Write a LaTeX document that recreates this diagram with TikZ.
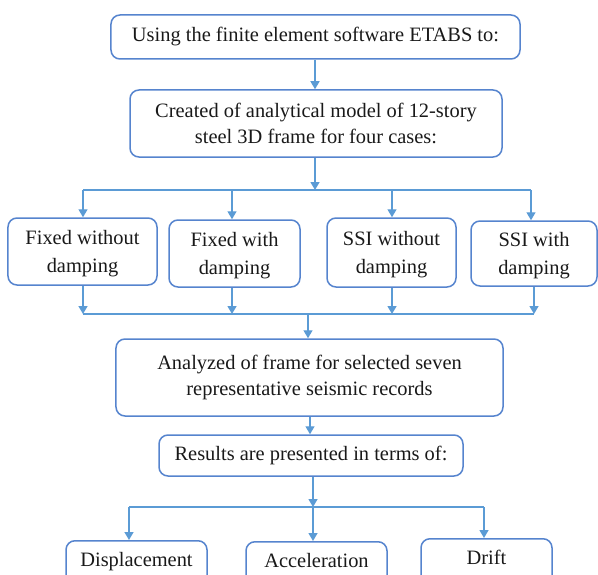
\documentclass[tikz,border=0pt]{standalone}
\usepackage{fontspec}
\setmainfont{Liberation Serif}
\usetikzlibrary{arrows.meta}
\definecolor{boxblue}{RGB}{86,132,206}
\definecolor{arrblue}{RGB}{91,155,213}
\tikzset{
  box/.style={draw=boxblue, line width=1.5bp, rounded corners=9bp, align=center,
    font=\fontsize{20.5}{26}\selectfont, inner sep=0pt, text=black!90},
  casebox/.style={box, font=\fontsize{20.5}{27.5}\selectfont, text depth=0bp},
  arr/.style={draw=arrblue, line width=1.4bp, -{Triangle[length=8bp,width=9bp]}},
  ln/.style={draw=arrblue, line width=1.4bp},
}
\begin{document}
\begin{tikzpicture}[x=1bp,y=-1bp]
\useasboundingbox (0,0) rectangle (598,575);
\clip (0,0) rectangle (598,575);
\node[box, minimum width=409bp, minimum height=44bp] (b1) at (315.5,37) {Using the finite element software ETABS to:};
\node[box, minimum width=372bp, minimum height=67bp, text depth=1bp] (b2) at (316,123.5) {Created of analytical model of 12-story\\steel 3D frame for four cases:};
\node[casebox, minimum width=149bp, minimum height=67bp] (c1) at (82.5,251.5) {Fixed without\\damping};
\node[casebox, minimum width=131bp, minimum height=67bp] (c2) at (234.5,253.5) {Fixed with\\damping};
\node[casebox, minimum width=129bp, minimum height=69bp] (c3) at (391.5,252.5) {SSI without\\damping};
\node[casebox, minimum width=126bp, minimum height=65bp] (c4) at (534,253.5) {SSI with\\damping};
\node[box, minimum width=387bp, minimum height=77bp] (b5) at (309.5,377.5) {Analyzed of frame for selected seven\\representative seismic records};
\node[box, minimum width=304bp, minimum height=41bp] (b6) at (311,455.5) {Results are presented in terms of:};
\node[box, anchor=north, minimum width=141bp, text height=14bp, text depth=40bp, inner ysep=12bp] (r1) at (136.5,540) {Displacement};
\node[box, anchor=north, minimum width=141bp, text height=14bp, text depth=40bp, inner ysep=12bp] (r2) at (316.5,541) {Acceleration};
\node[box, anchor=north, minimum width=131bp, text height=14bp, text depth=40bp, inner ysep=12bp] (r3) at (486.5,538) {Drift};
% junction coordinates
\coordinate (j1) at (315,190);
\coordinate (h1l) at (83,190);
\coordinate (h1a) at (232,190);
\coordinate (h1b) at (392,190);
\coordinate (h1r) at (531,190);
\coordinate (h2l) at (83,314);
\coordinate (h2a) at (232,314);
\coordinate (h2b) at (392,314);
\coordinate (h2r) at (534,314);
\coordinate (j2) at (308,314);
\coordinate (j3) at (313,507);
\coordinate (h3l) at (129,507);
\coordinate (h3r) at (484,507);
% connectors
\draw[arr] (315,0 |- b1.south) -- (315,0 |- b2.north);
\draw[arr] (j1 |- b2.south) -- (j1);
\draw[ln] (h1l) -- (h1r);
\draw[arr] (h1l) -- (h1l |- c1.north);
\draw[arr] (h1a) -- (h1a |- c2.north);
\draw[arr] (h1b) -- (h1b |- c3.north);
\draw[arr] (h1r) -- (h1r |- c4.north);
\draw[arr] (h2l |- c1.south) -- (h2l);
\draw[arr] (h2a |- c2.south) -- (h2a);
\draw[arr] (h2b |- c3.south) -- (h2b);
\draw[arr] (h2r |- c4.south) -- (h2r);
\draw[ln] (h2l) -- (h2r);
\draw[arr] (j2) -- (j2 |- b5.north);
\draw[arr] (310,0 |- b5.south) -- (310,0 |- b6.north);
\draw[arr] (j3 |- b6.south) -- (j3);
\draw[ln] (h3l) -- (h3r);
\draw[arr] (h3l) -- (h3l |- r1.north);
\draw[arr] (j3) -- (j3 |- r2.north);
\draw[arr] (h3r) -- (h3r |- r3.north);
\end{tikzpicture}
\end{document}
